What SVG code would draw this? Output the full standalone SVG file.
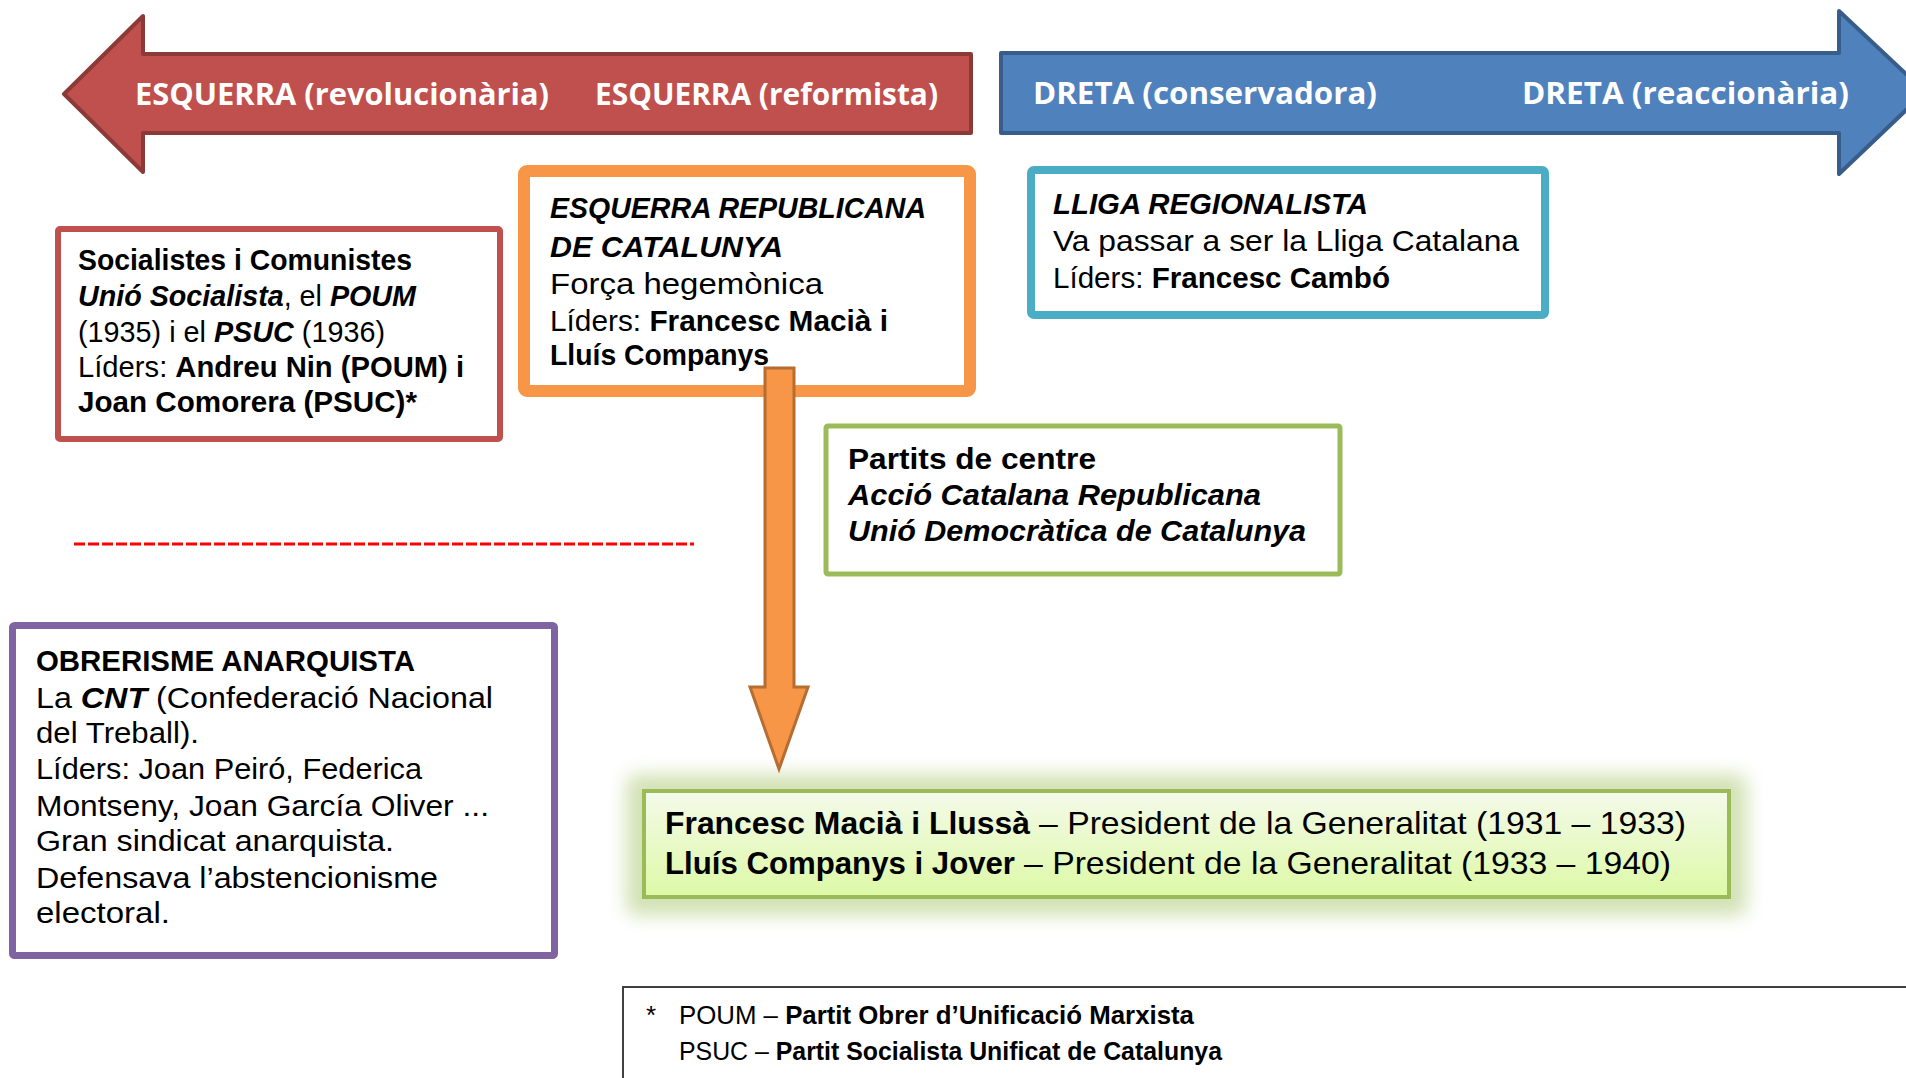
<svg xmlns="http://www.w3.org/2000/svg" width="1906" height="1078" viewBox="0 0 1906 1078">
<style>
.t{font-family:"Liberation Sans","DejaVu Sans",sans-serif;font-size:29.3px;fill:#000}
.b{font-weight:700}
.i{font-style:italic}
.lab{font-family:"Open Sans","DejaVu Sans",sans-serif;font-size:30px;font-weight:700;fill:#fff}
.big{font-family:"Liberation Sans","DejaVu Sans",sans-serif;font-size:32px;fill:#000}
.fn{font-family:"Liberation Sans","DejaVu Sans",sans-serif;font-size:26px;fill:#000}
.box{fill:#fff}
</style>
<defs>
<linearGradient id="gfill" x1="0" y1="0" x2="0" y2="1">
<stop offset="0" stop-color="#F4FAEA"/>
<stop offset="1" stop-color="#DDF9A6"/>
</linearGradient>
<filter id="glow" x="-10%" y="-50%" width="120%" height="200%">
<feGaussianBlur stdDeviation="9"/>
</filter>
</defs>
<rect width="1906" height="1078" fill="#fff"/>

<g id="arrow-esquerra">
<polygon points="64,94 143,16 143,54 971,54 971,133 143,133 143,172" fill="#C0504D" stroke="#8C3A38" stroke-width="4" stroke-linejoin="round"/>
<text class="lab" x="135" y="105" textLength="414" lengthAdjust="spacingAndGlyphs">ESQUERRA (revolucionària)</text>
<text class="lab" x="595" y="105" textLength="343" lengthAdjust="spacingAndGlyphs">ESQUERRA (reformista)</text>
</g>

<g id="arrow-dreta">
<polygon points="1001,53 1839,53 1839,11 1925,92 1839,174 1839,133 1001,133" fill="#4F81BD" stroke="#385D8A" stroke-width="4" stroke-linejoin="round"/>
<text class="lab" x="1033" y="104" textLength="344" lengthAdjust="spacingAndGlyphs">DRETA (conservadora)</text>
<text class="lab" x="1522" y="104" textLength="327" lengthAdjust="spacingAndGlyphs">DRETA (reaccionària)</text>
</g>

<g id="socialistes">
<rect x="58" y="229" width="442" height="210" rx="2" class="box" stroke="#C0504D" stroke-width="6"/>
<text class="t b" x="78" y="270" textLength="334" lengthAdjust="spacingAndGlyphs">Socialistes i Comunistes</text>
<text class="t" x="78" y="306" textLength="338" lengthAdjust="spacingAndGlyphs"><tspan class="b i">Unió Socialista</tspan>, el <tspan class="b i">POUM</tspan></text>
<text class="t" x="78" y="342" textLength="307" lengthAdjust="spacingAndGlyphs">(1935) i el <tspan class="b i">PSUC</tspan> (1936)</text>
<text class="t" x="78" y="377" textLength="386" lengthAdjust="spacingAndGlyphs">Líders: <tspan class="b">Andreu Nin (POUM) i</tspan></text>
<text class="t b" x="78" y="412" textLength="339" lengthAdjust="spacingAndGlyphs">Joan Comorera (PSUC)*</text>
</g>

<g id="erc">
<rect x="524" y="171" width="446" height="220" rx="3" class="box" stroke="#F79646" stroke-width="12"/>
<text class="t b i" x="550" y="218" textLength="376" lengthAdjust="spacingAndGlyphs">ESQUERRA REPUBLICANA</text>
<text class="t b i" x="550" y="257" textLength="233" lengthAdjust="spacingAndGlyphs">DE CATALUNYA</text>
<text class="t" x="550" y="294" textLength="273" lengthAdjust="spacingAndGlyphs">Força hegemònica</text>
<text class="t" x="550" y="331" textLength="338" lengthAdjust="spacingAndGlyphs">Líders: <tspan class="b">Francesc Macià i</tspan></text>
<text class="t b" x="550" y="365" textLength="219" lengthAdjust="spacingAndGlyphs">Lluís Companys</text>
</g>

<g id="lliga">
<rect x="1031" y="170" width="514" height="145" rx="3" class="box" stroke="#4BACC6" stroke-width="8"/>
<text class="t b i" x="1053" y="214" textLength="315" lengthAdjust="spacingAndGlyphs">LLIGA REGIONALISTA</text>
<text class="t" x="1053" y="251" textLength="466" lengthAdjust="spacingAndGlyphs">Va passar a ser la Lliga Catalana</text>
<text class="t" x="1053" y="288" textLength="337" lengthAdjust="spacingAndGlyphs">Líders: <tspan class="b">Francesc Cambó</tspan></text>
</g>

<g id="centre">
<rect x="826" y="426" width="514" height="148" rx="2" class="box" stroke="#9BBB59" stroke-width="5"/>
<text class="t b" x="848" y="469" textLength="248" lengthAdjust="spacingAndGlyphs">Partits de centre</text>
<text class="t b i" x="848" y="505" textLength="413" lengthAdjust="spacingAndGlyphs">Acció Catalana Republicana</text>
<text class="t b i" x="848" y="541" textLength="458" lengthAdjust="spacingAndGlyphs">Unió Democràtica de Catalunya</text>
</g>

<g id="separator">
<line x1="74" y1="544" x2="694" y2="544" stroke="#FF0000" stroke-width="3" stroke-dasharray="11 3"/>
</g>

<g id="anarquista">
<rect x="12.5" y="625.5" width="542" height="330" rx="2" class="box" stroke="#8064A2" stroke-width="7"/>
<text class="t b" x="36" y="671" textLength="379" lengthAdjust="spacingAndGlyphs">OBRERISME ANARQUISTA</text>
<text class="t" x="36" y="708" textLength="457" lengthAdjust="spacingAndGlyphs">La <tspan class="b i">CNT</tspan> (Confederació Nacional</text>
<text class="t" x="36" y="743" textLength="163" lengthAdjust="spacingAndGlyphs">del Treball).</text>
<text class="t" x="36" y="779" textLength="386" lengthAdjust="spacingAndGlyphs">Líders: Joan Peiró, Federica</text>
<text class="t" x="36" y="816" textLength="453" lengthAdjust="spacingAndGlyphs">Montseny, Joan García Oliver ...</text>
<text class="t" x="36" y="851" textLength="358" lengthAdjust="spacingAndGlyphs">Gran sindicat anarquista.</text>
<text class="t" x="36" y="888" textLength="402" lengthAdjust="spacingAndGlyphs">Defensava l’abstencionisme</text>
<text class="t" x="36" y="923" textLength="134" lengthAdjust="spacingAndGlyphs">electoral.</text>
</g>

<g id="presidents">
<rect x="626" y="774" width="1121" height="142" rx="12" fill="#B5CF84" opacity="0.6" filter="url(#glow)"/>
<rect x="644" y="791" width="1085" height="106" fill="url(#gfill)" stroke="#9BBB59" stroke-width="4"/>
<text class="big b" x="665" y="834" textLength="365" lengthAdjust="spacingAndGlyphs">Francesc Macià i Llussà</text>
<text class="big" x="1039" y="834" textLength="647" lengthAdjust="spacingAndGlyphs">– President de la Generalitat (1931 – 1933)</text>
<text class="big b" x="665" y="874" textLength="350" lengthAdjust="spacingAndGlyphs">Lluís Companys i Jover</text>
<text class="big" x="1024" y="874" textLength="647" lengthAdjust="spacingAndGlyphs">– President de la Generalitat (1933 – 1940)</text>
</g>

<g id="connectors">
<polygon points="765,368 794,368 794,687 808,687 779,769 750,687 765,687" fill="#F79646" stroke="#B66D31" stroke-width="3" stroke-linejoin="miter"/>
</g>

<g id="footnote">
<rect x="623" y="987" width="1400" height="200" fill="none" stroke="#404040" stroke-width="2"/>
<text class="fn" x="646" y="1024">*</text>
<text class="fn" x="679" y="1024" textLength="515" lengthAdjust="spacingAndGlyphs">POUM – <tspan font-weight="700">Partit Obrer d’Unificació Marxista</tspan></text>
<text class="fn" x="679" y="1060" textLength="543" lengthAdjust="spacingAndGlyphs">PSUC – <tspan font-weight="700">Partit Socialista Unificat de Catalunya</tspan></text>
</g>
</svg>
